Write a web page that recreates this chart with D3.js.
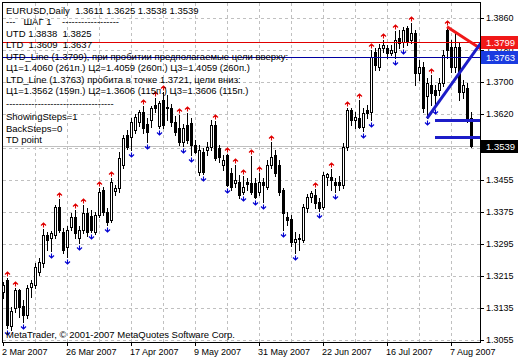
<!DOCTYPE html>
<html><head><meta charset="utf-8">
<script src="https://cdn.jsdelivr.net/npm/d3@7"></script>
<style>
body{margin:0;background:#fff}
svg{display:block}
text{font-family:"Liberation Sans",Arial,sans-serif;white-space:pre}
</style>
</head><body>
<svg id="c" width="520" height="360"></svg>
<script>
// ---------- data ----------
const opens  = [1.3175,1.3205,1.3090,1.3135,1.3180,1.3140,1.3118,1.3188,1.3193,1.3225,
1.3248,1.3318,1.3310,1.3318,1.3388,1.3325,1.3288,1.3338,1.3363,1.3310,
1.3330,1.3373,1.3365,1.3325,1.3368,1.3430,1.3375,1.3355,1.3428,1.3435,
1.3493,1.3568,1.3563,1.3580,1.3600,1.3625,1.3595,1.3605,1.3643,1.3590,
1.3655,1.3635,1.3635,1.3600,1.3585,1.3550,1.3593,1.3598,1.3543,1.3475,
1.3525,1.3530,1.3538,1.3593,1.3535,1.3493,1.3518,1.3473,1.3448,1.3450,
1.3425,1.3450,1.3448,1.3448,1.3425,1.3450,1.3438,1.3493,1.3518,1.3493,
1.3430,1.3363,1.3358,1.3300,1.3310,1.3305,1.3385,1.3413,1.3418,1.3400,
1.3388,1.3463,1.3463,1.3450,1.3450,1.3443,1.3538,1.3630,1.3605,1.3610,
1.3588,1.3630,1.3625,1.3775,1.3738,1.3785,1.3785,1.3773,1.3775,1.3810,
1.3800,1.3835,1.3805,1.3823,1.3723,1.3738,1.3665,1.3693,1.3680,1.3680,
1.3698,1.3830,1.3788,1.3738,1.3788,1.3675,1.3685,1.3611];
const highs  = [1.3200,1.3210,1.3138,1.3185,1.3183,1.3155,1.3193,1.3205,1.3248,1.3260,
1.3333,1.3325,1.3328,1.3393,1.3408,1.3335,1.3340,1.3373,1.3380,1.3340,
1.3393,1.3385,1.3380,1.3375,1.3435,1.3438,1.3385,1.3460,1.3443,1.3525,
1.3568,1.3580,1.3610,1.3620,1.3630,1.3640,1.3610,1.3640,1.3660,1.3653,
1.3675,1.3668,1.3645,1.3615,1.3618,1.3595,1.3623,1.3610,1.3555,1.3543,
1.3535,1.3550,1.3605,1.3603,1.3543,1.3518,1.3520,1.3485,1.3493,1.3468,
1.3465,1.3460,1.3515,1.3460,1.3473,1.3460,1.3505,1.3550,1.3530,1.3505,
1.3435,1.3375,1.3368,1.3325,1.3320,1.3395,1.3420,1.3428,1.3433,1.3410,
1.3475,1.3473,1.3483,1.3460,1.3465,1.3548,1.3635,1.3635,1.3625,1.3655,
1.3635,1.3643,1.3780,1.3785,1.3795,1.3805,1.3793,1.3793,1.3828,1.3830,
1.3838,1.3840,1.3848,1.3830,1.3755,1.3750,1.3710,1.3718,1.3693,1.3710,
1.3780,1.3838,1.3805,1.3825,1.3800,1.3705,1.3698,1.3625];
const lows   = [1.3160,1.3085,1.3080,1.3125,1.3113,1.3100,1.3110,1.3163,1.3185,1.3218,
1.3238,1.3280,1.3278,1.3310,1.3325,1.3273,1.3263,1.3330,1.3310,1.3298,
1.3323,1.3315,1.3325,1.3320,1.3363,1.3368,1.3343,1.3350,1.3418,1.3425,
1.3485,1.3533,1.3530,1.3573,1.3590,1.3573,1.3550,1.3588,1.3625,1.3585,
1.3585,1.3605,1.3590,1.3568,1.3543,1.3540,1.3548,1.3518,1.3523,1.3468,
1.3470,1.3518,1.3530,1.3505,1.3500,1.3480,1.3440,1.3430,1.3438,1.3410,
1.3420,1.3430,1.3420,1.3410,1.3418,1.3400,1.3433,1.3485,1.3465,1.3418,
1.3330,1.3343,1.3290,1.3273,1.3280,1.3300,1.3375,1.3400,1.3385,1.3378,
1.3383,1.3443,1.3430,1.3425,1.3430,1.3435,1.3530,1.3593,1.3585,1.3585,
1.3578,1.3610,1.3605,1.3730,1.3730,1.3775,1.3760,1.3768,1.3760,1.3785,
1.3788,1.3793,1.3798,1.3693,1.3705,1.3625,1.3609,1.3643,1.3637,1.3668,
1.3690,1.3760,1.3725,1.3725,1.3655,1.3660,1.3600,1.3538];
const closes = [1.3193,1.3093,1.3128,1.3180,1.3138,1.3118,1.3185,1.3198,1.3238,1.3250,
1.3318,1.3305,1.3323,1.3388,1.3330,1.3280,1.3330,1.3363,1.3323,1.3330,
1.3373,1.3325,1.3330,1.3368,1.3425,1.3375,1.3350,1.3450,1.3435,1.3510,
1.3560,1.3538,1.3600,1.3613,1.3625,1.3585,1.3575,1.3635,1.3635,1.3648,
1.3593,1.3638,1.3600,1.3575,1.3550,1.3585,1.3555,1.3543,1.3525,1.3530,
1.3475,1.3538,1.3593,1.3510,1.3513,1.3505,1.3443,1.3438,1.3455,1.3418,
1.3438,1.3445,1.3425,1.3413,1.3450,1.3443,1.3493,1.3513,1.3473,1.3425,
1.3373,1.3355,1.3300,1.3308,1.3308,1.3388,1.3413,1.3423,1.3398,1.3385,
1.3468,1.3470,1.3455,1.3443,1.3443,1.3538,1.3630,1.3605,1.3613,1.3588,
1.3623,1.3623,1.3763,1.3743,1.3785,1.3793,1.3773,1.3780,1.3805,1.3798,
1.3830,1.3800,1.3823,1.3723,1.3738,1.3635,1.3698,1.3673,1.3668,1.3698,
1.3768,1.3780,1.3738,1.3788,1.3675,1.3693,1.3605,1.3539];

const upPoints   = [1,3,10,14,18,20,24,27,35,38,40,44,46,53,56,58,60,62,64,67,78,82,86,89,92,95,98,102,107,111];
const downPoints = [1,5,12,16,19,22,26,32,36,39,45,47,50,56,60,63,65,70,73,79,83,90,92,98,100,106,108];

const yTicks = [1.3860,1.3780,1.3700,1.3620,1.3535,1.3455,1.3375,1.3295,1.3215,1.3135,1.3055];
const hiddenYLabels = [1.3535];
const xTickIdx = [0,16,32,48,64,80,96,112];
const xTickLabels = ["2 Mar 2007","26 Mar 2007","17 Apr 2007","9 May 2007","31 May 2007","22 Jun 2007","16 Jul 2007","7 Aug 2007"];
const xGridIdx = [8,16,24,32,40,48,56,64,72,80,88,96,104,112];

const bid = 1.3539;
const utdLevel = 1.3799, ltdLevel = 1.3763;
const utdPts = [[111,1.3838],[113,1.3825]];
const ltdPts = [[106,1.3609],[108,1.3637]];
const targets = [1.3606,1.3562];
const targetStart = 108;

const infoLines = [
 "EURUSD,Daily  1.3611 1.3625 1.3538 1.3539",
 "---   ШАГ 1    ------------------",
 "UTD 1.3838  1.3825",
 "LTD  1.3609  1.3637",
 "UTD_Line (1.3799), при пробитии предполагаемые цели вверху:",
 "Ц1=1.4060 (261п.) Ц2=1.4059 (260п.) Ц3=1.4059 (260п.)",
 "LTD_Line (1.3763) пробита в точке 1.3721, цели вниз:",
 "Ц1=1.3562 (159п.) Ц2=1.3606 (115п.) Ц3=1.3606 (115п.)",
 "----------------------------------",
 "ShowingSteps=1",
 "BackSteps=0",
 "TD point"
];
const infoBaselines = [13.5,25,36.5,47.5,59.5,71,82.5,94,107,120,131.5,143];

// ---------- drawing ----------
const svg = d3.select("#c");
svg.append("rect").attr("width",520).attr("height",360).attr("fill","#fff");
const L=3, R=480, T=3, B=342;
const x = d3.scaleLinear().domain([0,117]).range([3,471]);
const y = d3.scaleLinear().domain([1.3055,1.3905]).range([340,0]);

svg.append("defs").append("clipPath").attr("id","plot")
  .append("rect").attr("x",L).attr("y",T).attr("width",R-L).attr("height",B-T);
const plot = svg.append("g").attr("clip-path","url(#plot)");

// grid
plot.selectAll(".gy").data(yTicks).enter().append("line")
  .attr("x1",L).attr("x2",R)
  .attr("y1",d=>Math.round(y(d))+0.5).attr("y2",d=>Math.round(y(d))+0.5)
  .attr("stroke","#c0c0c0").attr("stroke-dasharray","3,3");
plot.selectAll(".gx").data(xGridIdx).enter().append("line")
  .attr("y1",T).attr("y2",B)
  .attr("x1",d=>Math.round(x(d))+0.5).attr("x2",d=>Math.round(x(d))+0.5)
  .attr("stroke","#c0c0c0").attr("stroke-dasharray","3,3");
// bid line
plot.append("line").attr("x1",L).attr("x2",R)
  .attr("y1",Math.round(y(bid))+0.5).attr("y2",Math.round(y(bid))+0.5)
  .attr("stroke","#c0c0c0");

// info text
svg.selectAll(".info").data(infoLines).enter().append("text")
  .attr("x",6).attr("y",(d,i)=>infoBaselines[i])
  .attr("font-size","9.5px").attr("fill","#000").text(d=>d);

// candles
const bars = opens.map((o,i)=>({i,o,h:highs[i],l:lows[i],c:closes[i]}));
const cg = plot.append("g");
bars.forEach(b=>{
  const cx = Math.round(x(b.i));
  const yh = Math.round(y(b.h)), yl = Math.round(y(b.l));
  const top = Math.round(y(Math.max(b.o,b.c))), bot = Math.round(y(Math.min(b.o,b.c)));
  cg.append("line").attr("x1",cx+0.5).attr("x2",cx+0.5).attr("y1",yh).attr("y2",yl+1)
    .attr("stroke","#000");
  if (b.c >= b.o) {
    cg.append("rect").attr("x",cx-0.5).attr("y",top+0.5).attr("width",2)
      .attr("height",Math.max(bot-top,1)).attr("fill","#fff").attr("stroke","#000");
  } else {
    cg.append("rect").attr("x",cx-1).attr("y",top).attr("width",3)
      .attr("height",Math.max(bot-top+1,1)).attr("fill","#000");
  }
});

// TD point arrows (small)
const ag = plot.append("g").attr("fill","none");
upPoints.forEach(i=>{
  const cx = Math.round(x(i))+0.5, b = Math.round(y(highs[i])) - 1.5;
  ag.append("path").attr("d",`M${cx-2.5},${b-2}L${cx},${b-4.5}L${cx+2.5},${b-2}M${cx},${b-4}L${cx},${b}`)
    .attr("stroke","#e00000").attr("stroke-width",1.1);
});
downPoints.forEach(i=>{
  const cx = Math.round(x(i))+0.5, b = Math.round(y(lows[i])) + 2.5;
  ag.append("path").attr("d",`M${cx-2.5},${b+2}L${cx},${b+4.5}L${cx+2.5},${b+2}M${cx},${b+4}L${cx},${b}`)
    .attr("stroke","#0000d0").attr("stroke-width",1.1);
});

// horizontal level lines
plot.append("line").attr("x1",L).attr("x2",R)
  .attr("y1",Math.round(y(utdLevel))+0.5).attr("y2",Math.round(y(utdLevel))+0.5)
  .attr("stroke","#e00000");
plot.append("line").attr("x1",L).attr("x2",R)
  .attr("y1",Math.round(y(ltdLevel))+0.5).attr("y2",Math.round(y(ltdLevel))+0.5)
  .attr("stroke","#0000a0");

// trend lines
const endIdx = x.invert(R+1);
function ray(p){
  const s = (p[1][1]-p[0][1])/(p[1][0]-p[0][0]);
  return [[x(p[0][0]),y(p[0][1])],[x(endIdx),y(p[0][1]+s*(endIdx-p[0][0]))]];
}
const r1 = ray(utdPts), r2 = ray(ltdPts);
plot.append("line").attr("x1",r1[0][0]).attr("y1",r1[0][1]).attr("x2",r1[1][0]).attr("y2",r1[1][1])
  .attr("stroke","#f01818").attr("stroke-width",3);
plot.append("line").attr("x1",r2[0][0]).attr("y1",r2[0][1]).attr("x2",r2[1][0]).attr("y2",r2[1][1])
  .attr("stroke","#1c1cc8").attr("stroke-width",3);
targets.forEach(t=>{
  plot.append("line").attr("x1",x(targetStart)).attr("x2",R)
    .attr("y1",Math.round(y(t))+0.5).attr("y2",Math.round(y(t))+0.5)
    .attr("stroke","#1c1cc8").attr("stroke-width",3);
});

// frame
svg.append("rect").attr("x",2.5).attr("y",2.5).attr("width",478).attr("height",340)
  .attr("fill","none").attr("stroke","#000");

// axes
const ay = svg.append("g").attr("transform","translate(480,0)")
  .call(d3.axisRight(y).tickValues(yTicks).tickSize(4).tickPadding(2)
    .tickFormat(d=>hiddenYLabels.includes(d) ? "" : d3.format(".4f")(d)));
ay.select(".domain").remove();
ay.selectAll("text").attr("font-size","9px").attr("fill","#000")
  .attr("font-family","'Liberation Sans',Arial,sans-serif");
ay.selectAll("line").attr("stroke","#000");

const ax = svg.append("g").attr("transform","translate(0,342)")
  .call(d3.axisBottom(x).tickValues(xTickIdx).tickSize(4).tickPadding(3).tickFormat((d,i)=>xTickLabels[i]));
ax.select(".domain").remove();
ax.selectAll("text").attr("font-size","9px").attr("fill","#000").attr("text-anchor","start").attr("dx","-1.5")
  .attr("font-family","'Liberation Sans',Arial,sans-serif");
ax.selectAll("line").attr("stroke","#000");

// price boxes
function box(v, fill){
  const yy = y(v);
  svg.append("rect").attr("x",481).attr("y",Math.round(yy)-6).attr("width",37).attr("height",13).attr("fill",fill);
  svg.append("text").attr("x",486).attr("y",Math.round(yy)+4).attr("font-size","9.5px")
    .attr("fill","#fff").text(d3.format(".4f")(v));
}
box(utdLevel,"#f01818");
box(ltdLevel,"#1a3ce0");
box(bid,"#000");

// copyright
svg.append("text").attr("x",6).attr("y",338).attr("font-size","9.5px").attr("fill","#000")
  .text("MetaTrader, © 2001-2007 MetaQuotes Software Corp.");
</script>
</body></html>
